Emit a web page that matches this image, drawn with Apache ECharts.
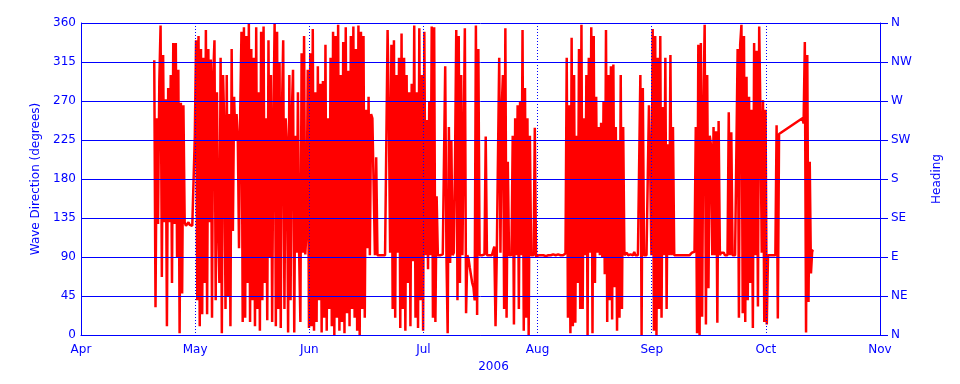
<!DOCTYPE html>
<html>
<head>
<meta charset="utf-8">
<script src="https://cdn.jsdelivr.net/npm/echarts@6/dist/echarts.min.js"></script>
<style>
html,body{margin:0;padding:0;background:#fff;}
#chart{width:960px;height:384px;}
</style>
</head>
<body>
<div id="chart"></div>
<script>
// x axis: equal-width months, Apr .. Nov 2006
const monthLabels = ['Apr','May','Jun','Jul','Aug','Sep','Oct','Nov'];
const headingLabels = ['N','NE','E','SE','S','SW','W','NW','N'];
const yearLabel = '2006';
// sampling: first reading 2006-04-20 06:00 UTC, one reading every 8 hours
const firstReading = Date.UTC(2006, 3, 20, 6);
const stepHours = 8;

// wave direction (degrees)
const dirPart1 = [
  317,32,250,128,292,357,67,323,
  130,272,10,285,130,300,60,337,
  128,337,90,306,2,268,48,265,
  130,126,128,130,127,127,126,127
];
const dirPart2 = [
  230,340,40,345,10,330,24,320,
  60,352,24,330,130,318,20,300,
  340,40,280,130,60,320,2,300,
  240,30,300,45,255,10,330,120,
  275,225,255,230,100,260,350,15,
  355,20,345,60,360,15,330,40,
  320,10,355,30,280,5,350,40,
  356,60,250,17,340,90,300,15,
  240,360,10,350,30,315,8,260,
  340,30,250,220,3,300,40,255,
  306,3,230,95,280,93,15,325
];
const dirPart3 = [
  95,345,93,120,306,8,325,10,
  353,5,280,15,310,40,290,3,
  293,20,335,5,250,30,320,10,
  350,0,345,20,358,5,300,15,
  338,2,355,25,305,10,345,30,
  356,20,330,5,357,0,350,30,
  345,20,260,100,275,92,255,250,
  250,92,205,92,92,92,92,92,
  92,92,92,352,250,95,335,30,
  340,20,300,95,320,8,348,30,
  320,5,300,60,280,10,290,85,
  357,20,280,8,354,40,300,5
];
const dirPart4 = [
  350,92,248,76,270,92,356,20,
  355,15,160,92,93,92,92,93,
  92,310,92,2,240,83,225,92,
  95,200,352,40,345,60,300,92,
  92,354,25,92,88,78,80,60,
  55,40,357,23,330,92,92,92,
  92,93,229,92,92,92,93,92,
  92,102,10,92,92,320,95,260,
  300,30,354,20,200,92,92,92,
  230,12,250,92,265,30,270,92,
  352,5,285,20,250,0,230,92,
  92,92,239,90,92,92,92,92
];
const dirPart5 = [
  92,92,92,91,92,92,92,92,
  92,93,93,92,92,93,94,92,
  92,92,92,94,320,20,265,2,
  343,10,300,14,230,60,330,30,
  358,30,250,92,300,0,320,95,
  355,2,345,60,275,95,240,92,
  245,90,270,70,352,15,300,40,
  310,18,312,55,240,5,225,20,
  300,30,240,92,92,95,92,94,
  93,95,92,96,92,92,92,92,
  300,0,285,92,92,92,92,265
];
const dirPart6 = [
  195,92,353,5,345,0,320,30,
  345,20,263,92,320,30,220,92,
  323,92,240,92,92,92,92,92,
  92,92,92,92,92,92,92,92,
  92,95,96,96,240,2,335,0,
  337,21,260,358,12,300,54,230,
  219,92,240,92,235,14,247,92,
  95,94,95,92,92,92,257,92,
  234,92,92,92,93,330,20,335,
  358,25,345,15,298,40,275,60,
  260,8,337,92,328,33,356,252,
  95,271,15,260,12,92,92,92
];
const dirPart7 = [
  92,92,92,92,242,19,232,null,
  null,null,null,null,null,null,null,null,
  null,null,null,null,null,null,null,null,
  null,250,244,338,3,323,38,200,
  71,97,98
];

const directions = [].concat(dirPart1, dirPart2, dirPart3, dirPart4, dirPart5, dirPart6, dirPart7);

// position of a time on the equal-month axis (0 = Apr 1, 7 = Nov 1)
function monthPos(t) {
  const d = new Date(t);
  const m = d.getUTCMonth();
  const dim = new Date(Date.UTC(2006, m + 1, 0)).getUTCDate();
  return (m - 3) + (d.getUTCDate() - 1 + d.getUTCHours() / 24) / dim;
}
const seriesData = directions.map((v, i) => [monthPos(firstReading + i * stepHours * 3600000), v === null ? '-' : v]);

const BLUE = '#0000ff';
const RED = '#ff0000';
const FONT = 'DejaVu Sans';

const chart = echarts.init(document.getElementById('chart'), null, {renderer: 'canvas'});
chart.setOption({
  animation: false,
  backgroundColor: '#ffffff',
  grid: {left: 81, right: 80, top: 23, bottom: 49, containLabel: false},
  xAxis: {
    type: 'value', min: 0, max: 7, interval: 1, z: 10,
    axisLine: {show: true, lineStyle: {color: BLUE, width: 1}},
    axisTick: {show: false},
    axisLabel: {color: BLUE, fontFamily: FONT, fontSize: 12, margin: 9, showMinLabel: true, showMaxLabel: true,
      formatter: v => monthLabels[Math.round(v)]},
    splitLine: {show: true, lineStyle: {color: BLUE, width: 1, type: [1, 2]}},
    name: yearLabel, nameLocation: 'middle', nameGap: 23,
    nameTextStyle: {color: BLUE, fontFamily: FONT, fontSize: 12, padding: [0, 0, 0, 26]}
  },
  yAxis: [{
    type: 'value', position: 'left', min: 0, max: 360, interval: 45, z: 10,
    axisLine: {show: true, lineStyle: {color: BLUE, width: 1}},
    axisTick: {show: false},
    axisLabel: {color: BLUE, fontFamily: FONT, fontSize: 12, margin: 5},
    splitLine: {show: true, lineStyle: {color: BLUE, width: 1, type: 'solid'}},
    name: 'Wave Direction (degrees)', nameLocation: 'middle', nameRotate: 90, nameGap: 38,
    nameTextStyle: {color: BLUE, fontFamily: FONT, fontSize: 12}
  }, {
    type: 'value', position: 'right', min: 0, max: 360, interval: 45, z: 10,
    axisLine: {show: true, lineStyle: {color: BLUE, width: 1}},
    axisTick: {show: true, inside: false, length: 8, lineStyle: {color: BLUE, width: 1}},
    axisLabel: {color: BLUE, fontFamily: FONT, fontSize: 12, margin: 11,
      formatter: v => headingLabels[Math.round(v / 45)]},
    splitLine: {show: false},
    name: 'Heading', nameLocation: 'middle', nameRotate: 90, nameGap: 51,
    nameTextStyle: {color: BLUE, fontFamily: FONT, fontSize: 12}
  }],
  series: [{
    type: 'line', xAxisIndex: 0, yAxisIndex: 0, z: 2,
    data: seriesData,
    showSymbol: false, symbol: 'none', connectNulls: true,
    lineStyle: {color: RED, width: 2.5},
    itemStyle: {color: RED},
    emphasis: {disabled: true}
  }]
});
</script>
</body>
</html>
